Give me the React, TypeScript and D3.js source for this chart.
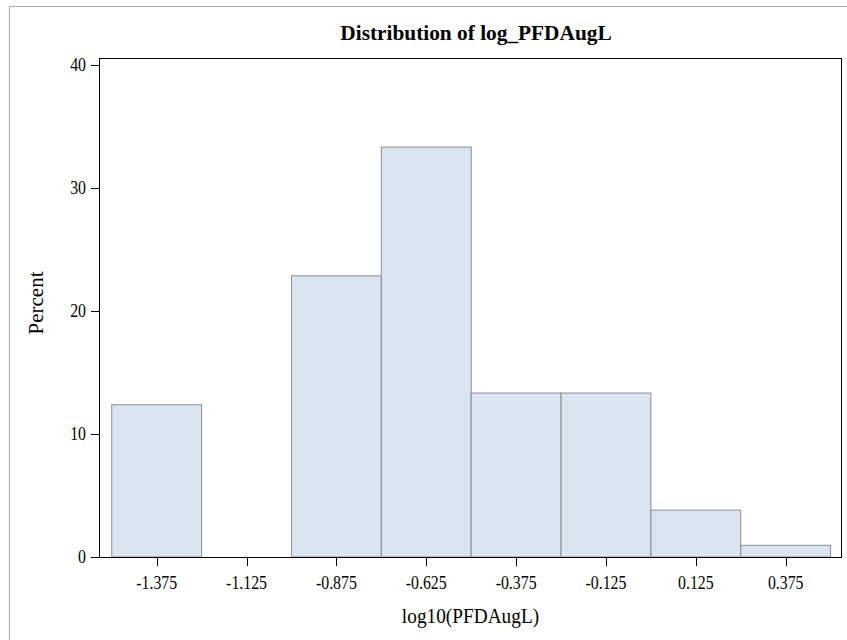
import React from "react";
import * as d3 from "d3";

const binCenters = [-1.375, -1.125, -0.875, -0.625, -0.375, -0.125, 0.125, 0.375];
const percents = [12.38, 0, 22.86, 33.33, 13.33, 13.33, 3.81, 0.95];
const binWidth = 0.25;
const yTicks = [0, 10, 20, 30, 40];
const xTickLabels = ["-1.375", "-1.125", "-0.875", "-0.625", "-0.375", "-0.125", "0.125", "0.375"];

const W = 847;
const H = 640;
const plot = { left: 99, right: 842, top: 58, bottom: 557 };
const font = "'Liberation Serif', 'Times New Roman', serif";

function T(props: { x: number; y: number; size: number; sx?: number; anchor?: string; bold?: boolean; rot?: number; children: React.ReactNode }) {
  const { x, y, size, sx = 1, anchor = "middle", bold = false, rot = 0, children } = props;
  return (
    <text
      transform={`translate(${x},${y}) rotate(${rot}) scale(${sx},1)`}
      textAnchor={anchor}
      fontFamily={font}
      fontWeight={bold ? "bold" : "normal"}
      fontSize={size}
      fill="#000"
    >
      {children}
    </text>
  );
}

export default function App() {
  const x = d3.scaleLinear().domain([-1.5355, 0.5317]).range([plot.left, plot.right]);
  const y = d3.scaleLinear().domain([0, 40.57]).range([plot.bottom, plot.top]);
  return (
    <svg width={W} height={H} style={{ position: "absolute", left: 0, top: 0, background: "#fff" }}>
      <rect x={9.5} y={6.5} width={W} height={H} fill="#fff" stroke="#a8a8a8" strokeWidth={1} />
      <T x={476} y={40} size={22} sx={0.97} bold>
        Distribution of log_PFDAugL
      </T>
      {binCenters.map((c, i) =>
        percents[i] > 0 ? (
          <rect
            key={i}
            x={x(c - binWidth / 2)}
            y={y(percents[i])}
            width={x(c + binWidth / 2) - x(c - binWidth / 2)}
            height={y(0) - y(percents[i])}
            fill="#dbe5f1"
            stroke="#8a8e94"
            strokeWidth={1}
          />
        ) : null
      )}
      <rect
        x={plot.left + 0.5}
        y={plot.top + 0.5}
        width={plot.right - plot.left - 1}
        height={plot.bottom - plot.top}
        fill="none"
        stroke="#000"
        strokeWidth={1}
      />
      {yTicks.map((t) => (
        <g key={t}>
          <line x1={plot.left - 8} x2={plot.left} y1={Math.round(y(t)) + 0.5} y2={Math.round(y(t)) + 0.5} stroke="#000" />
          <T x={plot.left - 13} y={y(t) + 6} size={18} sx={0.88} anchor="end">
            {t}
          </T>
        </g>
      ))}
      {binCenters.map((c, i) => (
        <g key={"xt" + i}>
          <line x1={Math.round(x(c)) + 0.5} x2={Math.round(x(c)) + 0.5} y1={plot.bottom} y2={plot.bottom + 9} stroke="#000" />
          <T x={x(c)} y={589} size={18} sx={0.88}>
            {xTickLabels[i]}
          </T>
        </g>
      ))}
      <T x={(plot.left + plot.right) / 2} y={623} size={21} sx={0.92}>
        log10(PFDAugL)
      </T>
      <T x={43} y={303} size={21} rot={-90}>
        Percent
      </T>
    </svg>
  );
}
